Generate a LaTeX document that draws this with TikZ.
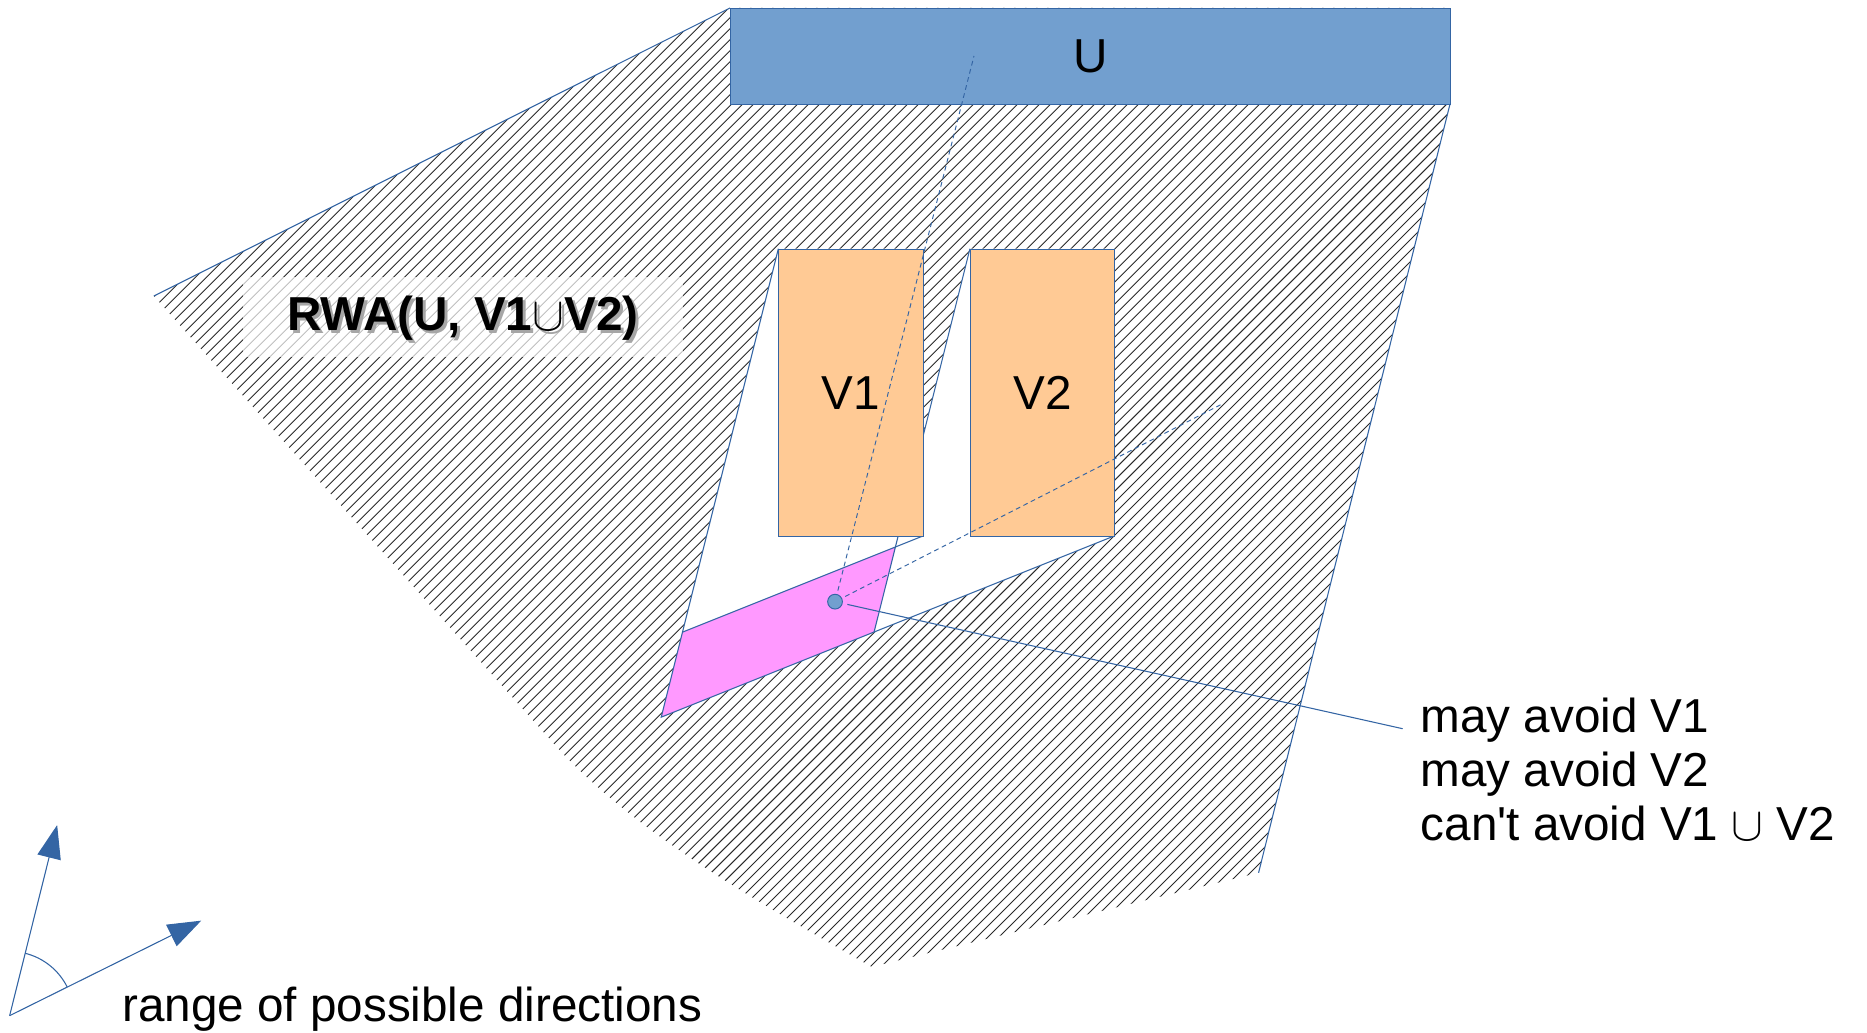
\RequirePackage{fix-cm}
\documentclass[tikz,border=0pt]{standalone}
\usepackage{fontspec}
\setmainfont{Liberation Sans}
\usetikzlibrary{arrows.meta}
\definecolor{regionblue}{HTML}{729FCF}
\definecolor{edgeblue}{HTML}{3465A4}
\definecolor{obstacle}{HTML}{FFCA95}
\definecolor{trap}{HTML}{FF99FF}
\definecolor{hatchink}{HTML}{2A2A2A}
\newcommand{\cupsym}{\ensuremath{\cup}}

\begin{document}
\begin{tikzpicture}[x=1pt,y=-1pt,
  edge/.style={draw=edgeblue, line width=0.9pt},
  ray/.style={draw=edgeblue, line width=0.8pt, dash pattern=on 4pt off 3pt, shorten <=3pt},
  box/.style={draw=edgeblue, line width=0.9pt, rectangle, inner sep=0pt, anchor=north west},
  big/.style={font=\fontsize{40}{45}\selectfont, inner sep=0pt},
  hatchline/.style={draw=hatchink, line width=0.75pt},
  dirarrow/.style={draw=edgeblue, fill=edgeblue, line width=0.9pt, -{Triangle[length=28pt,width=20pt]}}
]
\useasboundingbox (0,0) rectangle (1568,867);

% outline of the reachable region
\coordinate (A)    at (129.2,248.6);
\coordinate (UTL)  at (613.1,6.7);
\coordinate (UTR)  at (1217.8,6.7);
\coordinate (UBR)  at (1217.8,87.3);
\coordinate (C)    at (1057,733);
\coordinate (Bot)  at (732,812);
\coordinate (Bend) at (470,630);

% obstacles and the trapped parallelogram
\coordinate (V1TL) at (653.7,208.9);
\coordinate (V1TR) at (774.9,208.9);
\coordinate (V1BR) at (774.9,450.2);
\coordinate (V2TL) at (814.6,208.9);
\coordinate (V2TR) at (935.6,208.9);
\coordinate (V2BR) at (935.6,450.2);
\coordinate (PTL)  at (573.2,530.9);
\coordinate (PTR)  at (752.0,459.4);
\coordinate (PBR)  at (734.1,530.8);
\coordinate (PBL)  at (555.35,602.3);
\coordinate (V2hit)  at (774.9,367.7);
\coordinate (V2foot) at (754.3,450.2);

% hatching of RWA
\begin{scope}
  \clip (A) -- (UTL) -- (UTR) -- (UBR) -- (C) -- (Bot)
        .. controls (650,765) and (540,705) .. (Bend) -- cycle;
  \foreach \c in {360,369.24,...,1830}
    \draw[hatchline] (\c-900,900) -- (\c+100,-100);
\end{scope}

% shadows of V1 and V2
\fill[white] (V1TL) -- (PTL) -- (V1BR) -- (V1TR) -- cycle;
\fill[white] (V2TL) -- (PBR) -- (V2BR) -- (V2TR) -- cycle;

% trapped region
\filldraw[fill=trap, draw=edgeblue, line width=0.9pt] (PTL) -- (PTR) -- (PBR) -- (PBL) -- cycle;

% boundary rays
\draw[edge] (A) -- (UTL);
\draw[edge] (UBR) -- (C);
\draw[edge] (V1TL) -- (PTL);
\draw[edge] (V1BR) -- (PTR);
\draw[edge] (V2TL) -- (V2hit);
\draw[edge] (V2foot) -- (PTR);
\draw[edge] (V2BR) -- (PBR);

% target and obstacles
\node[box, fill=regionblue, minimum width=604.7pt, minimum height=80.6pt] (U) at (UTL) {};
\node[box, fill=obstacle, minimum width=121.2pt, minimum height=241.3pt] (V1) at (V1TL) {};
\node[box, fill=obstacle, minimum width=121.0pt, minimum height=241.3pt] (V2) at (V2TL) {};
\node[big] (ulab)  at (U.center)  {U};
\node[big] (v1lab) at (V1.center) {V1};
\node[big] (v2lab) at (V2.center) {V2};

% region label
\node[fill=white, fill opacity=0.7, minimum width=369.5pt, minimum height=66.5pt, inner sep=0pt] (rwabox) at (389.25,266.25) {};
\node[big, text=black!35, anchor=base] (rwashadow) at (391.2,280.2) {\bfseries RWA(U, V1\cupsym V2)};
\node[big, anchor=base] (rwa) at (388.7,277.7) {\bfseries RWA(U, V1\cupsym V2)};

% sample point with its two extreme directions
\node[circle, fill=regionblue, draw=edgeblue, line width=0.8pt, minimum size=12.4pt, inner sep=0pt] (dot) at (701.3,505.3) {};
\coordinate (ray1) at (818,47);
\coordinate (ray2) at (1025,340);
\draw[ray] (dot) -- (ray1);
\draw[ray] (dot) -- (ray2);

% annotation
\node[big, anchor=base west] (lab1) at (1193,615.3) {may avoid V1};
\node[big, anchor=base west] (lab2) at (1193,660.6) {may avoid V2};
\node[big, anchor=base west] (lab3) at (1193,706) {can\textquotesingle t avoid V1 \cupsym{} V2};
\coordinate (tail) at (1178,612);
\draw[edge, shorten <=4pt] (dot) -- (tail);

% range of directions
\coordinate (O)  at (8.1,853);
\coordinate (T1) at (48,692.9);
\coordinate (T2) at (169,773.2);
\draw[dirarrow] (O) -- (T1);
\draw[dirarrow] (O) -- (T2);
\draw[edge] ([shift={(76:54pt)}]O) arc[start angle=76, end angle=26.4, radius=54pt];
\node[big, anchor=base west] (dirlab) at (102.5,858) {range of possible directions};
\end{tikzpicture}
\end{document}
